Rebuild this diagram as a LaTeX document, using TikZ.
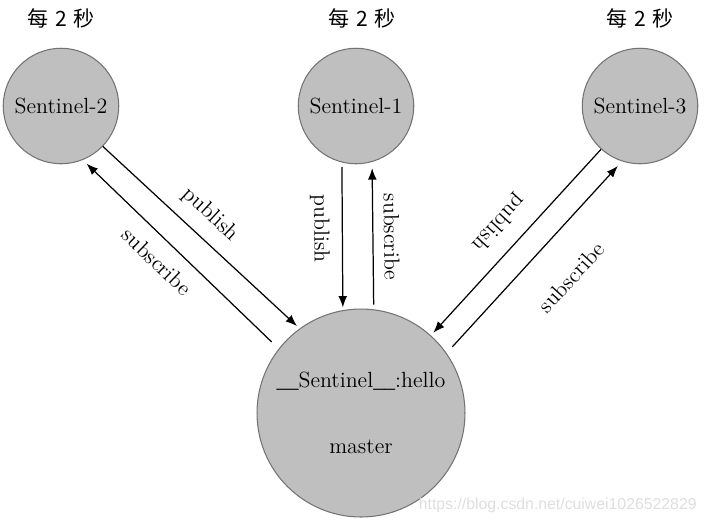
\documentclass[tikz,border=0pt]{standalone}
\usepackage{fontspec}
\newfontfamily\cjkFont{Noto Sans CJK SC}
\newfontfamily\markFont{Liberation Sans}
\newfontfamily\lineFont{Liberation Serif}
\usetikzlibrary{arrows.meta,positioning}

\begin{document}
\begin{tikzpicture}[x=0.02cm, y=-0.02cm,
    sentinelNode/.style={circle, draw=black!55, fill=black!25, line width=0.6pt,
        minimum size=2.31cm, inner sep=0pt, font=\fontsize{12.5}{15}\selectfont},
    masterNode/.style={sentinelNode, minimum size=4.16cm, align=center},
    tagText/.style={inner sep=0pt, font=\cjkFont\fontsize{12}{14}\selectfont},
    markText/.style={inner sep=0pt, text=black!13, font=\markFont\fontsize{9}{11}\selectfont},
    flowArrow/.style={line width=0.7pt, >={Latex[length=6.5pt,width=5pt]}},
    flowLabel/.style={sloped, allow upside down, inner sep=0pt, font=\fontsize{12.5}{15}\selectfont}
]
\useasboundingbox (0,0) rectangle (705,522);

\node[sentinelNode] (sentinel2) at (61,106) {Sentinel-2};
\node[sentinelNode] (sentinel1) at (356,106) {Sentinel-1};
\node[sentinelNode] (sentinel3) at (640,106) {Sentinel-3};
\node[masterNode] (master) at (361,413) {{\lineFont\_\_}Sentinel{\lineFont\_\_}:hello\\[22.5pt]master};

\node[tagText, above=0.38cm of sentinel2] (tag2) {每\hspace{4pt}2\hspace{4pt}秒};
\node[tagText, above=0.38cm of sentinel1, xshift=0.12cm] (tag1) {每\hspace{4pt}2\hspace{4pt}秒};
\node[tagText, above=0.38cm of sentinel3] (tag3) {每\hspace{4pt}2\hspace{4pt}秒};

% Sentinel-2 <-> master
\draw[flowArrow, ->, shorten >=2pt] (sentinel2.-44) -- node[flowLabel, pos=.467, above=7.1pt] {publish} (master.126);
\draw[flowArrow, <-, shorten <=3pt, shorten >=5.5pt] (sentinel2.-68) -- node[flowLabel, pos=.456, below=7.6pt] {subscribe} (master.142);

% Sentinel-1 <-> master
\draw[flowArrow, ->, shorten <=2.5pt, shorten >=1.5pt] (sentinel1.-104) -- node[flowLabel, pos=.445, below=6.9pt] {publish} (master.100);
\draw[flowArrow, <-, shorten <=3.5pt, shorten >=2.7pt] (sentinel1.-74) -- node[flowLabel, pos=.51, above=5.9pt] {subscribe} (master.83);

% Sentinel-3 <-> master
\draw[flowArrow, ->, shorten >=2pt] (sentinel3.-132) -- node[flowLabel, pos=.489, below=9.2pt] {publish} (master.48);
\draw[flowArrow, ->, shorten <=4.9pt, shorten >=3.5pt] (master.35) -- node[flowLabel, pos=.54, below=18.4pt] {subscribe} (sentinel3.-108);

\node[markText, anchor=east] (watermark) at (697,505) {https://blog.csdn.net/cuiwei1026522829};

\end{tikzpicture}
\end{document}
